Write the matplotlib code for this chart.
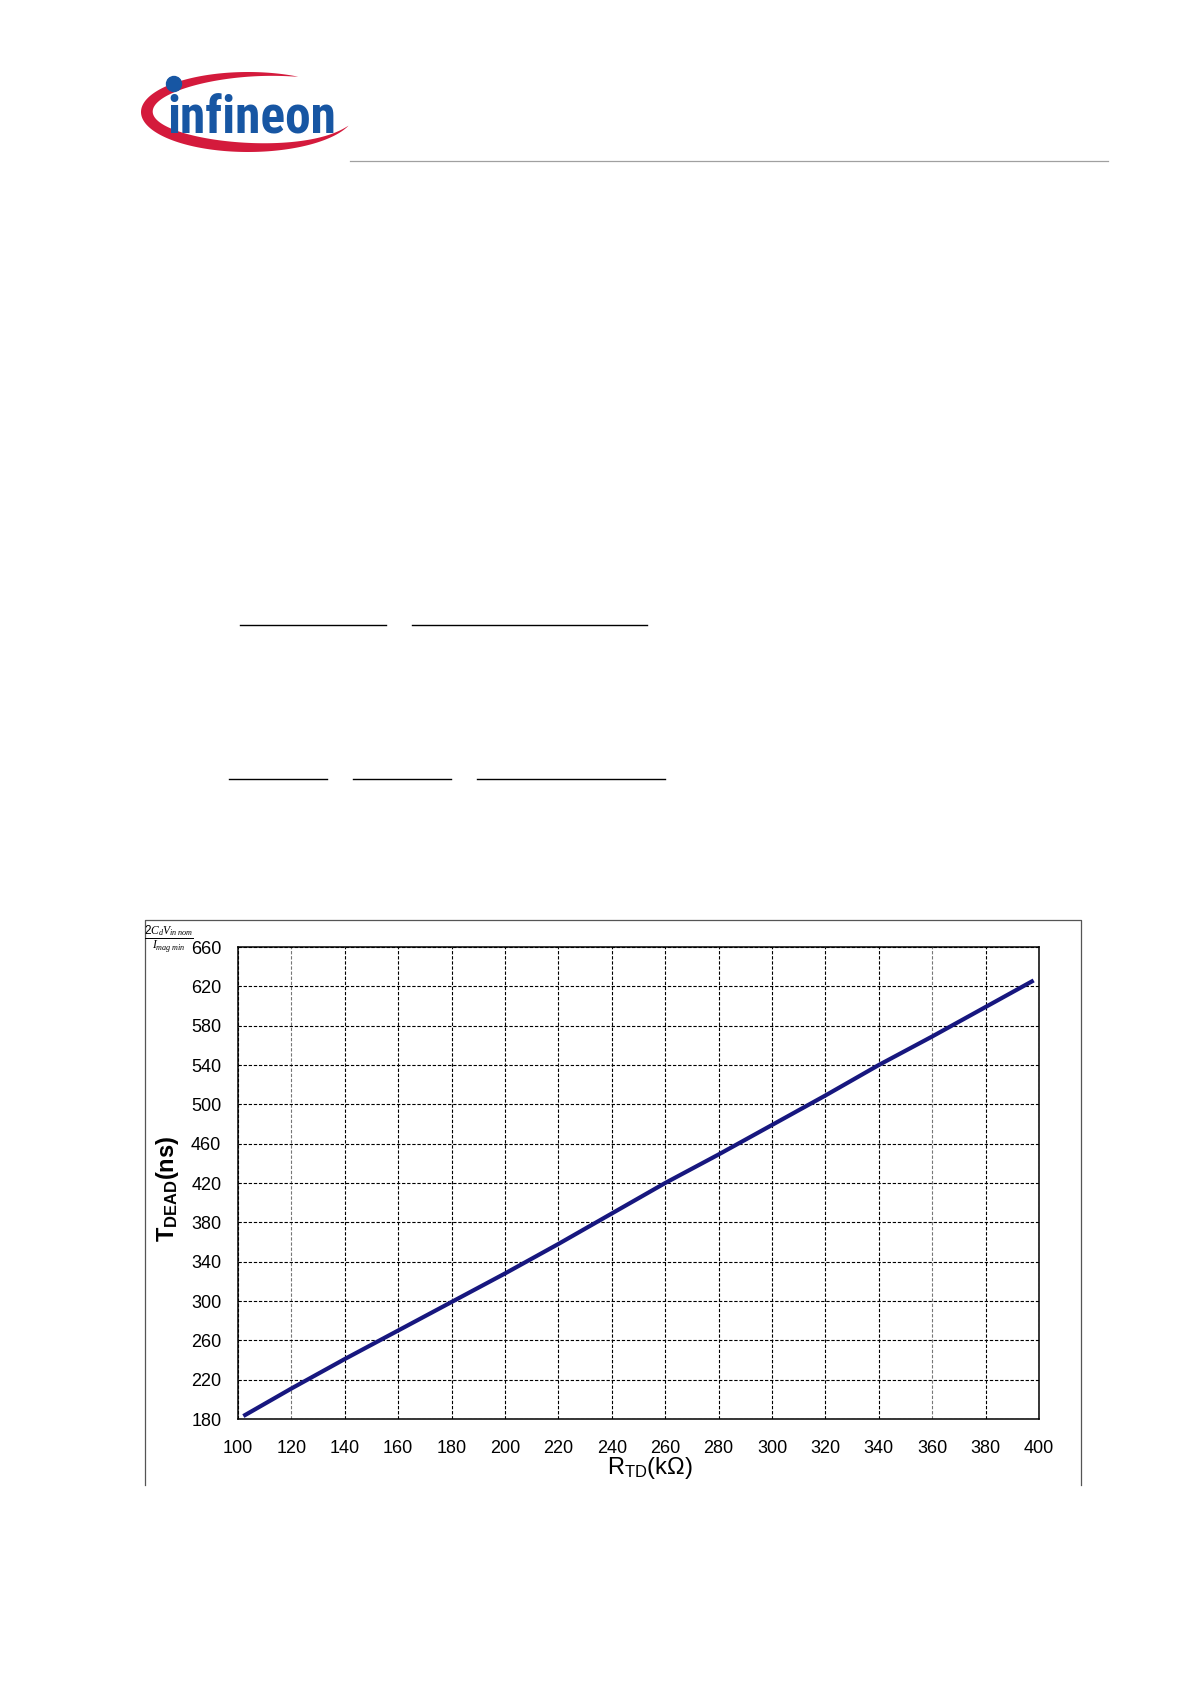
import numpy as np
import matplotlib as mpl
mpl.use("Agg")
import matplotlib.pyplot as plt
from matplotlib.patches import Polygon, Circle

# Dead time vs. R_TD curve
rtd = [102, 120, 140, 160, 180, 200, 220, 240, 260, 280, 300, 320, 340, 360, 380, 398]
tdead = [183, 211, 241, 270, 299, 328, 358, 389, 420, 449, 479, 509, 540, 569, 599, 626]

xticks = list(range(100, 401, 20))
yticks = list(range(180, 661, 40))

plt.rcParams['font.family'] = ['Liberation Sans', 'DejaVu Sans']
plt.rcParams['mathtext.fontset'] = 'custom'
plt.rcParams['mathtext.rm'] = 'Liberation Sans'
plt.rcParams['mathtext.bf'] = 'Liberation Sans:bold'
plt.rcParams['mathtext.it'] = 'Liberation Serif:italic'

W, H = 1190, 1684
fig = plt.figure(figsize=(W / 100, H / 100), dpi=100)

# page decoration layer, pixel coordinates with y going down
deco = fig.add_axes([0, 0, 1, 1])
deco.set_xlim(0, W)
deco.set_ylim(H, 0)
deco.axis('off')

# logo swoosh
cx, cy, a, b = 248, 112, 107, 40
t = np.radians(np.linspace(62, 340, 200))
w = 12 * np.sin(np.pi * (np.degrees(t) - 62) / 278) ** 0.8
outer = np.c_[cx + a * np.cos(t), cy - b * np.sin(t)]
inner = np.c_[cx + (a - w) * np.cos(t), cy - (b - w) * np.sin(t)]
deco.add_patch(Polygon(np.r_[outer, inner[::-1]], closed=True,
                       facecolor='#d41a3c', edgecolor='none'))
deco.text(167, 133, 'infineon', color='#1756a3', fontsize=37, fontweight='bold',
          family=['Roboto Condensed', 'Liberation Sans Narrow', 'Liberation Sans'],
          va='baseline', ha='left')
deco.add_patch(Circle((174, 84), 7.5, color='#1756a3'))

# header rule
deco.plot([350, 1108], [161, 161], color='#a0a0a0', lw=0.9)

# leftover fraction bars of the equations
for x0, x1, y in [(240, 386, 625), (412, 647, 625),
                  (229, 327, 779), (353, 451, 779), (477, 665, 779)]:
    deco.plot([x0, x1], [y, y], color='black', lw=1.0)

# chart frame (open at bottom)
deco.plot([145, 145, 1081, 1081], [1485, 920, 920, 1485], color='#555555', lw=0.9)

# formula fragment in frame corner
deco.text(169, 939, r'$\frac{\mathit{2C_{d}V_{in\,nom}}}{\mathit{I_{mag\;min}}}$',
          fontsize=12, ha='center', va='center')

# the chart
ax = fig.add_axes([238 / W, 1 - 1419 / H, (1039 - 238) / W, (1419 - 947) / H])
ax.plot(rtd, tdead, color='#17177f', lw=3, solid_capstyle='butt')
ax.set_xlim(100, 400)
ax.set_ylim(180, 660)
ax.set_xticks(xticks)
ax.set_yticks(yticks)
ax.tick_params(length=0, labelsize=13, colors='black')
ax.tick_params(axis='x', pad=15)
ax.tick_params(axis='y', pad=12)
ax.grid(True, color='black', linestyle=(0, (3, 1.6)), lw=0.8)
for i, gl in enumerate(ax.get_xgridlines()):
    if xticks[i] in (120, 360):
        gl.set_color('#777777')
for s in ax.spines.values():
    s.set_linewidth(1.1)
    s.set_color('black')

ax.set_xlabel(r'R$_{\mathrm{TD}}$(k$\Omega$)', fontsize=17, va='center')
ax.xaxis.set_label_coords(0.514, -0.104)
ax.set_ylabel(r'T$_{\mathbf{DEAD}}$(ns)', fontsize=17, fontweight='bold', va='center')
ax.yaxis.set_label_coords(-0.0886, 0.487)

plt.savefig('out.png', dpi=100)
